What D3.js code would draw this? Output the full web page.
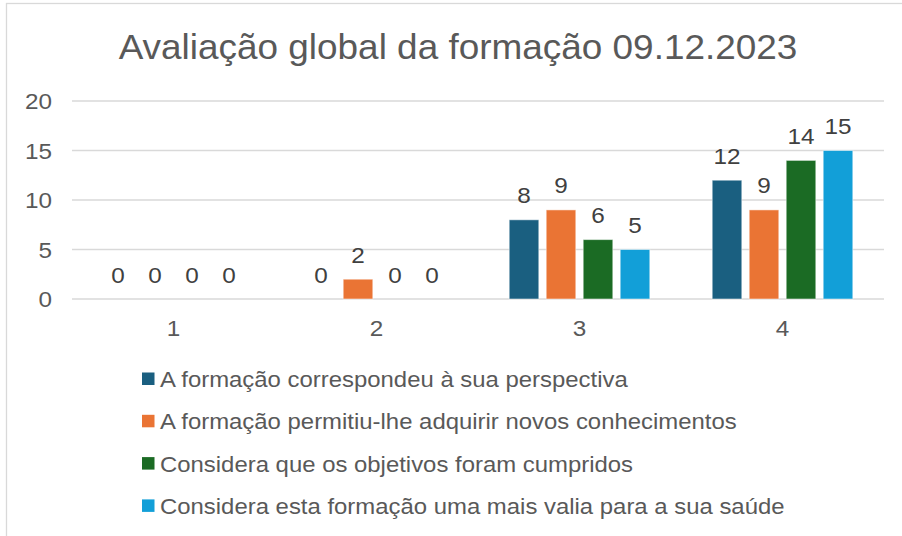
<!DOCTYPE html>
<html>
<head>
<meta charset="utf-8">
<script src="https://cdn.jsdelivr.net/npm/d3@7"></script>
<style>
    body { margin: 0; background: #fff; }
    text { font-family: "Liberation Sans", Arial, sans-serif; }
</style>
</head>
<body>
<div id="picture"></div>
<script>
var title = "Avaliação global da formação 09.12.2023";
var categories = ["1", "2", "3", "4"];
var seriesNames = [
    "A formação correspondeu à sua perspectiva",
    "A formação permitiu-lhe adquirir novos conhecimentos",
    "Considera que os objetivos foram cumpridos",
    "Considera esta formação uma mais valia para a sua saúde"
];
var seriesColors = ["#1a5f80", "#ea7434", "#1b6b24", "#129fd8"];
var serie1 = [0, 0, 8, 12];
var serie2 = [0, 2, 9, 9];
var serie3 = [0, 0, 6, 14];
var serie4 = [0, 0, 5, 15];
var yTicks = [0, 5, 10, 15, 20];

function draw() {
    "use strict";

    var width = 902, height = 536;
    var left = 72, right = 884, top = 101, bottom = 299;

    var values = [serie1, serie2, serie3, serie4];
    var data = categories.map(function (c, i) {
        return { cat: c, vals: values.map(function (s, k) { return { k: k, v: s[i] }; }) };
    });

    var svg = d3.select("#picture")
        .append("svg")
        .attr("width", width)
        .attr("height", height);

    // chart frame
    svg.append("rect")
        .attr("x", 6.5).attr("y", 3.5)
        .attr("width", 1000).attr("height", 1000)
        .attr("fill", "none")
        .attr("stroke", "#d9d9d9")
        .attr("stroke-width", 1.3);

    function label(g, x, y, txt, size, anchor, color, sx) {
        return g.append("text")
            .attr("transform", "translate(" + x + "," + y + ") scale(" + sx + ",1)")
            .attr("text-anchor", anchor)
            .attr("font-size", size)
            .attr("fill", color)
            .text(txt);
    }

    label(svg, 458, 59, title, 35, "middle", "#595959", 1.055);

    var x0 = d3.scaleBand().domain(categories).range([left, right]);
    var groupW = 148;
    var x1 = d3.scaleBand().domain(d3.range(4))
        .range([(x0.bandwidth() - groupW) / 2, (x0.bandwidth() + groupW) / 2])
        .paddingInner(0.2).paddingOuter(0.1);
    var y = d3.scaleLinear().domain([0, 20]).range([bottom, top]);

    // gridlines
    svg.append("g").selectAll("line")
        .data(yTicks)
        .enter().append("line")
        .attr("x1", left).attr("x2", right)
        .attr("y1", function (d) { return y(d); })
        .attr("y2", function (d) { return y(d); })
        .attr("stroke", "#d9d9d9")
        .attr("stroke-width", 1.3);

    var yAxis = svg.append("g");
    yTicks.forEach(function (t) {
        label(yAxis, 52, y(t) + 8, t, 22.5, "end", "#595959", 1.08);
    });

    var xAxis = svg.append("g");
    categories.forEach(function (c) {
        label(xAxis, x0(c) + x0.bandwidth() / 2, 336, c, 22.5, "middle", "#595959", 1.08);
    });

    var groups = svg.append("g").selectAll("g")
        .data(data)
        .enter().append("g")
        .attr("transform", function (d) { return "translate(" + x0(d.cat) + ",0)"; });

    groups.selectAll("rect")
        .data(function (d) { return d.vals.filter(function (e) { return e.v > 0; }); })
        .enter().append("rect")
        .attr("x", function (d) { return x1(d.k); })
        .attr("y", function (d) { return y(d.v); })
        .attr("width", x1.bandwidth())
        .attr("height", function (d) { return y(0) - y(d.v); })
        .attr("fill", function (d) { return seriesColors[d.k]; })
        .attr("stroke", "#ffffff")
        .attr("stroke-opacity", 0.5)
        .attr("stroke-width", 1);

    groups.each(function (d) {
        var g = d3.select(this);
        d.vals.forEach(function (e) {
            label(g, x1(e.k) + x1.bandwidth() / 2, y(e.v) - 16.5, e.v, 22.5, "middle", "#404040", 1.08);
        });
    });

    // legend
    var legend = svg.append("g");
    seriesNames.forEach(function (name, i) {
        var cy = 379 + i * 42.3;
        legend.append("rect")
            .attr("x", 142).attr("y", cy - 6.5)
            .attr("width", 12.5).attr("height", 12.5)
            .attr("fill", seriesColors[i]);
        label(legend, 160, cy + 8, name, 22, "start", "#595959", 1.087);
    });
}

draw();
</script>
</body>
</html>
